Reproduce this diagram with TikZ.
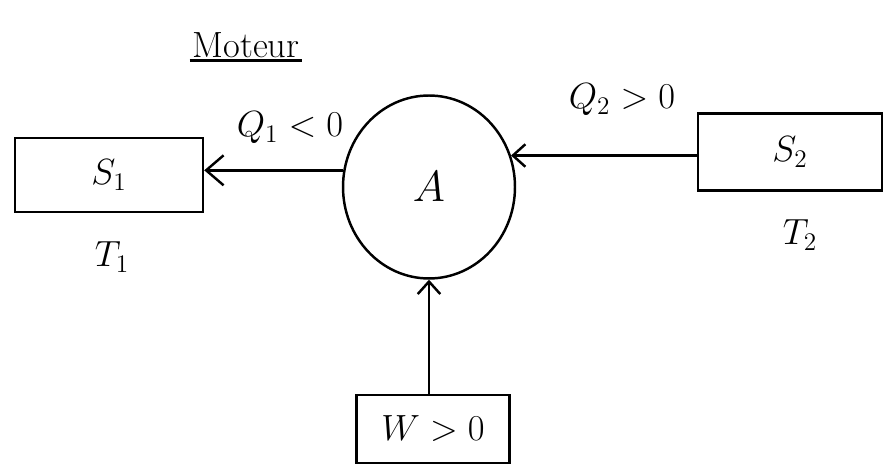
\documentclass[tikz,border=0pt]{standalone}
\usepackage{amsmath}
\usepackage{tikz}
\usetikzlibrary{arrows.meta,shapes.geometric}

\begin{document}
\begin{tikzpicture}[x=0.02cm, y=-0.02cm, line width=1.4pt,
    box/.style={draw, rectangle, inner sep=0pt, font=\huge},
    flow/.style={-{Straight Barb[length=3.5mm, width=6mm, line width=1.4pt]}},
    thin flow/.style={-{Straight Barb[length=2.5mm, width=4.5mm, line width=1.4pt]}},
    lbl/.style={font=\huge}]
  \useasboundingbox (0,0) rectangle (885,475);
  % reservoirs and the engine
  \node[box, minimum width=3.76cm, minimum height=1.48cm] (s1) at (109,175) {$S_1$};
  \node[box, minimum width=3.68cm, minimum height=1.54cm] (s2) at (790,152) {$S_2$};
  \node[box, minimum width=3.06cm, minimum height=1.36cm] (w) at (433,429) {$W>0$};
  \node[draw, ellipse, inner sep=0pt, minimum width=3.44cm, minimum height=3.66cm,
        font=\fontsize{36}{40}\selectfont] (a) at (429,187) {$A$};
  % temperatures under the reservoirs
  \node[lbl] (t1) at (112,257) {$T_1$};
  \node[lbl] (t2) at (800,235) {$T_2$};
  % heat and work exchanges
  \draw[flow] (a.169) -- (a.169 -| s1.east);
  \node[lbl] (q1) at (290,128) {$Q_1<0$};
  \draw[thin flow] (a.21 -| s2.west) -- (a.21);
  \node[lbl] (q2) at (622,100) {$Q_2>0$};
  \draw[thin flow] (w.north -| a.south) -- (a.south);
  % title
  \node[lbl, inner sep=1pt] (title) at (246,45) {Moteur};
  \draw (title.south west) -- (title.south east);
\end{tikzpicture}
\end{document}
